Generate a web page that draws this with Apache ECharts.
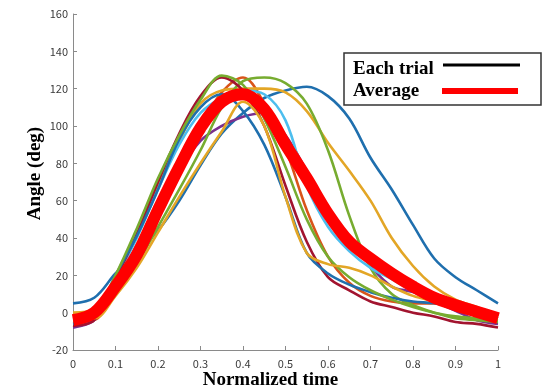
<!DOCTYPE html>
<html><head><meta charset="utf-8">
<script src="https://cdn.jsdelivr.net/npm/echarts@6/dist/echarts.min.js"></script>
<style>html,body{margin:0;padding:0;background:#fff}#c{width:552px;height:392px}</style>
</head><body><div id="c"></div>
<script>
// ---- data ----
const timePoints = [0, 0.05, 0.1, 0.15, 0.2, 0.25, 0.3, 0.35, 0.4, 0.45, 0.5, 0.55, 0.6, 0.65, 0.7, 0.75, 0.8, 0.85, 0.9, 0.95, 1];
const xTicks = [0, 0.1, 0.2, 0.3, 0.4, 0.5, 0.6, 0.7, 0.8, 0.9, 1];
const yTicks = [-20, 0, 20, 40, 60, 80, 100, 120, 140, 160];

const trialBlueLate  = [5, 8, 21, 32, 44, 60, 79, 96, 107, 115, 119, 121, 116, 104, 83, 66, 47, 29, 19, 12, 5];
const trialBlueEarly = [-6, -2, 20, 41, 66, 93, 110, 117, 108, 90, 62, 32, 21, 15, 11, 8, 6, 5, 3, 0, -3];
const trialDarkRed   = [-7, -4, 18, 42, 70, 96, 116, 126, 119, 100, 68, 38, 19, 12, 6, 3, 0, -2, -5, -6, -8];
const trialGreenA    = [-4, -1, 20, 45, 72, 95, 114, 127, 122, 104, 78, 50, 30, 19, 12, 7, 3, 0, -2, -3, -4];
const trialOrange    = [-5, -4, 12, 30, 55, 78, 100, 118, 126, 112, 88, 55, 30, 16, 9, 6, 5, 5, 3, 1, -2];
const trialYellowA   = [0, 2, 19, 42, 68, 92, 112, 119, 120, 120, 118, 108, 91, 76, 60, 40, 25, 14, 7, 3, -2];
const trialGreenB    = [-3, -2, 10, 26, 46, 66, 87, 110, 124, 126, 123, 112, 87, 52, 24, 10, 4, 0, -3, -4, -5];
const trialPurple    = [-8, -4, 15, 36, 55, 76, 92, 100, 105, 107, 95, 76, 56, 40, 25, 14, 11, 6, 1, -4, -6];
const trialLightBlue = [-2, -1, 18, 40, 66, 90, 107, 115, 119, 117, 103, 68, 46, 33, 24, 18, 12, 8, 4, 1, -2];
const trialYellowB   = [-2, -3, 9, 24, 43, 62, 80, 97, 113, 100, 62, 32, 26, 24, 20, 14, 9, 6, 3, 0, -3];
const averageValues  = [-4, 0, 14, 31, 55, 78, 99, 113, 117, 109, 90, 72, 53, 38, 29, 21, 14, 8, 4, 0.5, -3];

const trialNames  = ['Trial 1', 'Trial 2', 'Trial 3', 'Trial 4', 'Trial 5', 'Trial 6', 'Trial 7', 'Trial 8', 'Trial 9', 'Trial 10'];
const trialValues = [trialBlueLate, trialOrange, trialYellowA, trialPurple, trialGreenB, trialLightBlue, trialDarkRed, trialBlueEarly, trialGreenA, trialYellowB];
const trialColors = ['#1f6fae', '#d9541a', '#e3a626', '#7b2f8e', '#77ac30', '#4dbeee', '#a2142f', '#1f6fae', '#77ac30', '#e3a626'];
const legendLabels = ['Each trial', 'Average'];

// ---- chart ----
const toPairs = arr => timePoints.map((t, i) => [t, arr[i]]);
const series = trialValues.map((vals, k) => ({
  name: trialNames[k], type: 'line', data: toPairs(vals), symbol: 'none', smooth: 0.35,
  lineStyle: { color: trialColors[k], width: 2.6 }, itemStyle: { color: trialColors[k] }, z: 2
}));
series.push({
  name: 'Average', type: 'line', data: toPairs(averageValues), symbol: 'none', smooth: 0.35,
  lineStyle: { color: '#ff0000', width: 12 }, itemStyle: { color: '#ff0000' }, z: 5
});

const tickFont = { color: '#3a3a3a', fontSize: 11, fontFamily: '"Noto Sans CJK JP", "DejaVu Sans", sans-serif' };
const titleFont = { color: '#000', fontSize: 19, fontWeight: 'bold', fontFamily: '"Liberation Serif", "Times New Roman", serif' };
const axisCol = '#8a8a8a';

const chart = echarts.init(document.getElementById('c'), null, { renderer: 'canvas' });
chart.setOption({
  animation: false,
  backgroundColor: '#fff',
  grid: { left: 73, right: 54, top: 14, bottom: 42, containLabel: false, outerBoundsMode: 'none' },
  xAxis: {
    type: 'value', min: xTicks[0], max: xTicks[xTicks.length - 1], interval: xTicks[1] - xTicks[0],
    name: 'Normalized time', nameLocation: 'middle', nameGap: 21, nameMoveOverlap: false,
    nameTextStyle: Object.assign({}, titleFont, { padding: [0, 30, 0, 0] }),
    axisLine: { onZero: false, lineStyle: { color: axisCol, width: 1 } },
    axisTick: { inside: true, length: 4, lineStyle: { color: axisCol } },
    axisLabel: Object.assign({ margin: 8 }, tickFont),
    splitLine: { show: false }
  },
  yAxis: {
    type: 'value', min: yTicks[0], max: yTicks[yTicks.length - 1], interval: yTicks[1] - yTicks[0],
    name: 'Angle (deg)', nameLocation: 'middle', nameGap: 28, nameMoveOverlap: false,
    nameTextStyle: Object.assign({}, titleFont, { padding: [0, 0, 0, 17] }),
    axisLine: { onZero: false, lineStyle: { color: axisCol, width: 1 } },
    axisTick: { inside: true, length: 4, lineStyle: { color: axisCol } },
    axisLabel: Object.assign({ margin: 5 }, tickFont),
    splitLine: { show: false }
  },
  graphic: [
    { type: 'rect', shape: { x: 344, y: 53, width: 197, height: 52 }, style: { fill: '#fff', stroke: '#333', lineWidth: 1.5 }, z: 100 },
    { type: 'text', x: 353, y: 69, style: { text: legendLabels[0], font: 'bold 19px "Liberation Serif", serif', fill: '#000', textAlign: 'left', textVerticalAlign: 'middle' }, z: 101 },
    { type: 'text', x: 353, y: 91, style: { text: legendLabels[1], font: 'bold 19px "Liberation Serif", serif', fill: '#000', textAlign: 'left', textVerticalAlign: 'middle' }, z: 101 },
    { type: 'line', shape: { x1: 443, y1: 65, x2: 520, y2: 65 }, style: { stroke: '#000', lineWidth: 3 }, z: 101 },
    { type: 'line', shape: { x1: 442, y1: 91, x2: 518, y2: 91 }, style: { stroke: '#ff0000', lineWidth: 6 }, z: 101 }
  ],
  series: series
});
</script>
</body></html>
